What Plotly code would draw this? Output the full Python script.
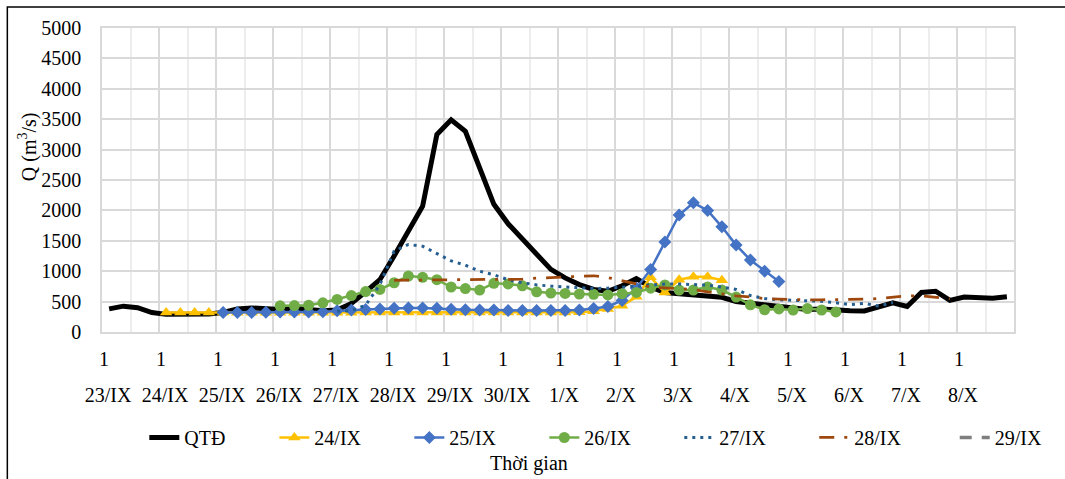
import plotly.graph_objects as go

# ---- data ----
DAYS = ["23/IX", "24/IX", "25/IX", "26/IX", "27/IX", "28/IX", "29/IX", "30/IX",
        "1/X", "2/X", "3/X", "4/X", "5/X", "6/X", "7/X", "8/X"]
HOURS = ["1", "7", "13", "19"]

QTD = [380, 425, 400, 320, 290, 290, 290, 295, 320, 380, 395, 380, 370, 390, 370, 350,
       360, 470, 660, 860, 1250, 1680, 2070, 3250, 3490, 3300, 2700, 2100, 1780, 1520, 1290, 1030,
       890, 780, 700, 670, 760, 880, 740, 650, 630, 615, 600, 570, 500, 470, 450, 420,
       395, 370, 380, 355, 350, 345, 420, 480, 420, 650, 670, 520, 575, 565, 555, 580]

F24 = [320, 320, 320, 320, 320, 315, 315, 315, 315, 315, 315, 315, 315, 315, 320, 320,
       320, 320, 320, 320, 320, 320, 320, 320, 320, 320, 320, 320, 320, 325, 340, 380,
       430, 580, 900, 650, 860, 910, 910, 850]
F25 = [320, 320, 320, 325, 330, 330, 330, 335, 350, 360, 370, 380, 390, 395, 395, 390,
       375, 365, 360, 360, 355, 355, 355, 355, 355, 360, 385, 420, 520, 720, 1030, 1480,
       1925, 2125, 2000, 1730, 1430, 1185, 1000, 830]
F26 = [430, 435, 440, 480, 535, 600, 665, 700, 810, 920, 900, 860, 740, 715, 690, 800,
       790, 760, 660, 640, 635, 625, 620, 610, 630, 650, 720, 775, 690, 690, 740, 690,
       575, 447, 366, 380, 360, 385, 362, 330]
F27 = [340, 350, 440, 780, 1330, 1440, 1410, 1290, 1170, 1100, 1000, 940, 860, 810, 775, 755,
       740, 725, 715, 720, 735, 760, 775, 790, 790, 785, 770, 740, 700, 600, 550, 530,
       525, 520, 505, 480, 450, 470, 425, 485]
F28 = [850, 855, 860, 860, 860, 860, 860, 865, 865, 870, 885, 895, 905, 915, 925, 895,
       840, 785, 740, 725, 710, 700, 660, 625, 595, 575, 550, 540, 530, 530, 530, 530,
       530, 540, 550, 570, 595, 595, 575, 545]
F29 = []

N = len(DAYS) * len(HOURS)
T = list(range(N))


def start(day):
    return DAYS.index(day) * len(HOURS)


FONT = "Liberation Serif, Times New Roman, serif"
FS = 20

# legend x positions (paper) of each legend entry
LEG_X = [0.0464, 0.189, 0.337, 0.485, 0.633, 0.781, 0.935]

fig = go.Figure()
fig.add_trace(go.Scatter(x=T, y=QTD, name="QTĐ", mode="lines", legend="legend",
                         line=dict(color="black", width=5)))
fig.add_trace(go.Scatter(x=T[start("24/IX"):start("24/IX") + len(F24)], y=F24, name="24/IX",
                         mode="lines+markers", line=dict(color="#FFC000", width=2.5),
                         legend="legend2",
                         marker=dict(symbol="triangle-up", size=11, color="#FFC000")))
fig.add_trace(go.Scatter(x=T[start("25/IX"):start("25/IX") + len(F25)], y=F25, name="25/IX",
                         mode="lines+markers", line=dict(color="#4472C4", width=2.5),
                         legend="legend3",
                         marker=dict(symbol="diamond", size=10, color="#4472C4")))
fig.add_trace(go.Scatter(x=T[start("26/IX"):start("26/IX") + len(F26)], y=F26, name="26/IX",
                         mode="lines+markers", line=dict(color="#70AD47", width=2.5),
                         legend="legend4",
                         marker=dict(symbol="circle", size=11, color="#70AD47")))
fig.add_trace(go.Scatter(x=T[start("27/IX"):start("27/IX") + len(F27)], y=F27, name="27/IX",
                         mode="lines", legend="legend5",
                         line=dict(color="#255E91", width=3, dash="3px,5px")))
fig.add_trace(go.Scatter(x=T[start("28/IX"):start("28/IX") + len(F28)], y=F28, name="28/IX",
                         mode="lines", legend="legend6",
                         line=dict(color="#9E480E", width=2.75, dash="15px,10px,3px,10px")))
fig.add_trace(go.Scatter(x=T[start("29/IX"):start("29/IX") + len(F29)] or [None], y=F29 or [None],
                         name="29/IX", mode="lines", legend="legend7",
                         line=dict(color="#7F7F7F", width=3.5, dash="12px,10px")))
# carrier for the date-level axis labels (draws nothing)
fig.add_trace(go.Scatter(x=T, y=[None] * N, xaxis="x2", yaxis="y", mode="lines",
                         showlegend=False, hoverinfo="skip"))

day_edges = [i * len(HOURS) - 0.5 for i in range(len(DAYS) + 1)]
half_edges = [i * len(HOURS) + 1.5 for i in range(len(DAYS))]

legends = {}
for i, lx in enumerate(LEG_X):
    key = "legend" if i == 0 else f"legend{i + 1}"
    legends[key] = dict(orientation="h", x=lx, xanchor="left", y=-0.347, yanchor="middle",
                        font=dict(size=FS, family=FONT), bgcolor="rgba(0,0,0,0)")

fig.update_layout(
    width=1065, height=479,
    margin=dict(l=102, r=51, t=28, b=147),
    paper_bgcolor="white", plot_bgcolor="white",
    font=dict(family=FONT, size=FS, color="black"),
    showlegend=True,
    xaxis=dict(range=[-0.5, N - 0.5], tickmode="array", tickvals=day_edges,
               ticktext=[HOURS[0]] * len(DAYS) + [""], ticklabelshift=2, ticklabelstandoff=8,
               showgrid=True, gridcolor="#D9D9D9", gridwidth=1.5,
               minor=dict(tickmode="array", tickvals=half_edges, showgrid=True,
                          gridcolor="#EDEDED", gridwidth=1.5),
               zeroline=False, showline=True, linecolor="#D9D9D9", linewidth=1.5, mirror=True,
               ticks="", tickfont=dict(size=FS)),
    xaxis2=dict(overlaying="x", anchor="y", side="bottom", range=[-0.5, N - 0.5],
                tickmode="array", tickvals=day_edges, ticktext=DAYS + [""],
                ticklabelshift=6, ticklabelstandoff=49, showgrid=False, zeroline=False,
                showline=False, ticks="", tickfont=dict(size=FS)),
    yaxis=dict(range=[0, 5000], dtick=500, tick0=0, showgrid=True, gridcolor="#D9D9D9",
               gridwidth=1.5, zeroline=False, showline=True, linecolor="#D9D9D9",
               linewidth=1.5, mirror=True, ticks="", ticklabelstandoff=15,
               tickfont=dict(size=FS)),
    **legends,
)

fig.add_annotation(text="Q (m<sup>3</sup>/s)", xref="paper", yref="paper",
                   x=-0.0808, y=0.609, textangle=-90, showarrow=False,
                   font=dict(size=FS), xanchor="center", yanchor="middle")
fig.add_annotation(text="Thời gian", xref="paper", yref="paper",
                   x=0.4685, y=-0.433, showarrow=False, font=dict(size=FS),
                   xanchor="center", yanchor="middle")
fig.add_shape(type="rect", xref="paper", yref="paper", x0=-0.1038, x1=1.07,
              y0=-0.6, y1=1.069, line=dict(color="black", width=1.5),
              fillcolor="rgba(0,0,0,0)", layer="above")

fig.write_html("out.html", config={"displayModeBar": False},
               post_script="document.body.style.margin='0';")
